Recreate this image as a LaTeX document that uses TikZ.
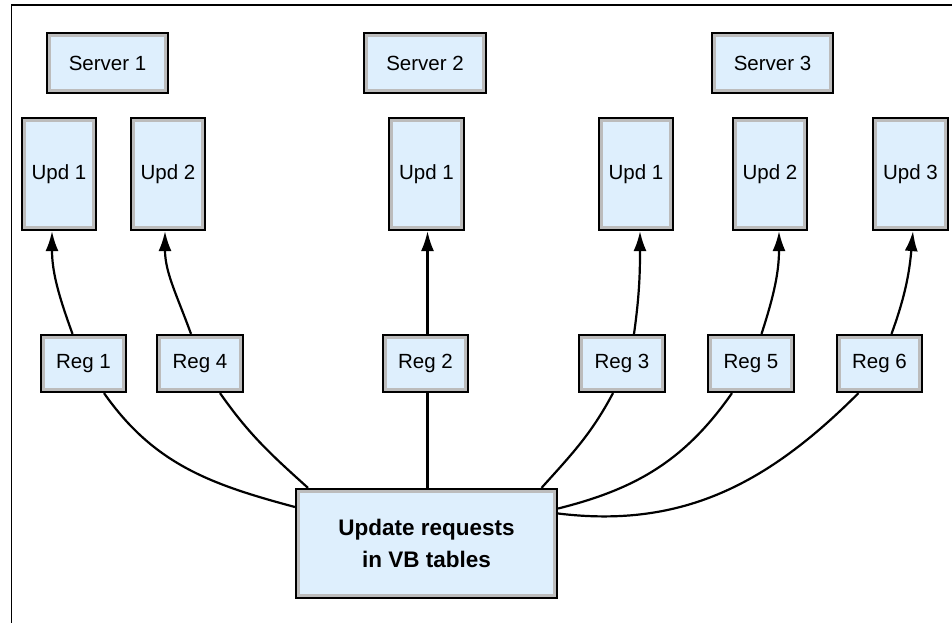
\documentclass[tikz,border=0pt]{standalone}
\usepackage{fontspec}
\setmainfont{Liberation Sans}
\usetikzlibrary{arrows.meta}
\definecolor{boxfill}{RGB}{222,239,253}
\definecolor{boxband}{RGB}{188,188,188}

\begin{document}
\begin{tikzpicture}[x=1pt, y=1pt,
    box/.style={rectangle, draw=black, line width=1.7pt, fill=boxfill, inner sep=0pt,
      font=\fontsize{20.5}{24}\selectfont,
      path picture={\draw[boxband, line width=8pt] (path picture bounding box.south west)
        rectangle (path picture bounding box.north east);}},
    serverbox/.style={box, minimum width=121.5pt, minimum height=60.5pt},
    updbox/.style={box, minimum width=74.5pt, minimum height=112.5pt},
    regbox/.style={box, minimum width=85.5pt, minimum height=57.5pt},
    mainbox/.style={box, minimum width=261.5pt, minimum height=109.5pt, align=center,
      font=\fontsize{22.5}{31.6}\selectfont\bfseries},
    conn/.style={line width=2.2pt, black},
    upconn/.style={conn, -{Latex[length=20pt, width=13pt]}}]
      \useasboundingbox (0, 0) rectangle (952, 623);
      \clip (0, 0) rectangle (952, 623);
      \draw[line width=1.3pt] (11.5, 618) rectangle (1100, -100);

      % servers
      \node (S1) [serverbox] at (107.5, 560) {Server 1};
      \node (S2) [serverbox] at (425, 560) {Server 2};
      \node (S3) [serverbox] at (772.5, 560) {Server 3};

      % update processes
      \node (U1a) [updbox] at (59, 449) {Upd 1};
      \node (U2a) [updbox] at (168, 449) {Upd 2};
      \node (U1b) [updbox] at (426.5, 449) {Upd 1};
      \node (U1c) [updbox] at (636, 449) {Upd 1};
      \node (U2c) [updbox] at (770, 449) {Upd 2};
      \node (U3c) [updbox] at (910.5, 449) {Upd 3};

      % registers
      \node (R1) [regbox] at (83.5, 259.5) {Reg 1};
      \node (R4) [regbox] at (200, 259.5) {Reg 4};
      \node (R2) [regbox] at (425.5, 259.5) {Reg 2};
      \node (R3) [regbox] at (622, 259.5) {Reg 3};
      \node (R5) [regbox] at (751, 259.5) {Reg 5};
      \node (R6) [regbox] at (879.5, 259.5) {Reg 6};

      \node (M) [mainbox] at (426.5, 79.5) {Update requests\\in VB tables};

      \draw[upconn] ([xshift=-11pt]R1.north) to[out=110, in=-90] ([xshift=-7pt]U1a.south);
      \draw[upconn] ([xshift=-9pt]R4.north) to[out=110, in=-90] ([xshift=-3pt]U2a.south);
      \draw[upconn] ([xshift=2pt]R2.north) -- ([xshift=1pt]U1b.south);
      \draw[upconn] ([xshift=12pt]R3.north) to[out=82, in=-90] ([xshift=4pt]U1c.south);
      \draw[upconn] ([xshift=10.5pt]R5.north) to[out=72, in=-90] ([xshift=9pt]U2c.south);
      \draw[upconn] ([xshift=12pt]R6.north) to[out=70, in=-95] ([xshift=2.5pt]U3c.south);

      \draw[conn] ([xshift=20.5pt]R1.south) to[out=-55, in=165] ([yshift=36.5pt]M.west);
      \draw[conn] ([xshift=20pt]R4.south) to[out=-55, in=138] ([xshift=-118.5pt]M.north);
      \draw[conn] ([xshift=2pt]R2.south) -- ([xshift=1pt]M.north);
      \draw[conn] ([xshift=-9pt]R3.south) to[out=-118, in=48] ([xshift=115pt]M.north);
      \draw[conn] ([xshift=-19pt]R5.south) to[out=-125, in=14] ([yshift=35pt]M.east);
      \draw[conn] ([xshift=-21pt]R6.south) to[out=-135, in=-7] ([yshift=30pt]M.east);
    \end{tikzpicture}
\end{document}
